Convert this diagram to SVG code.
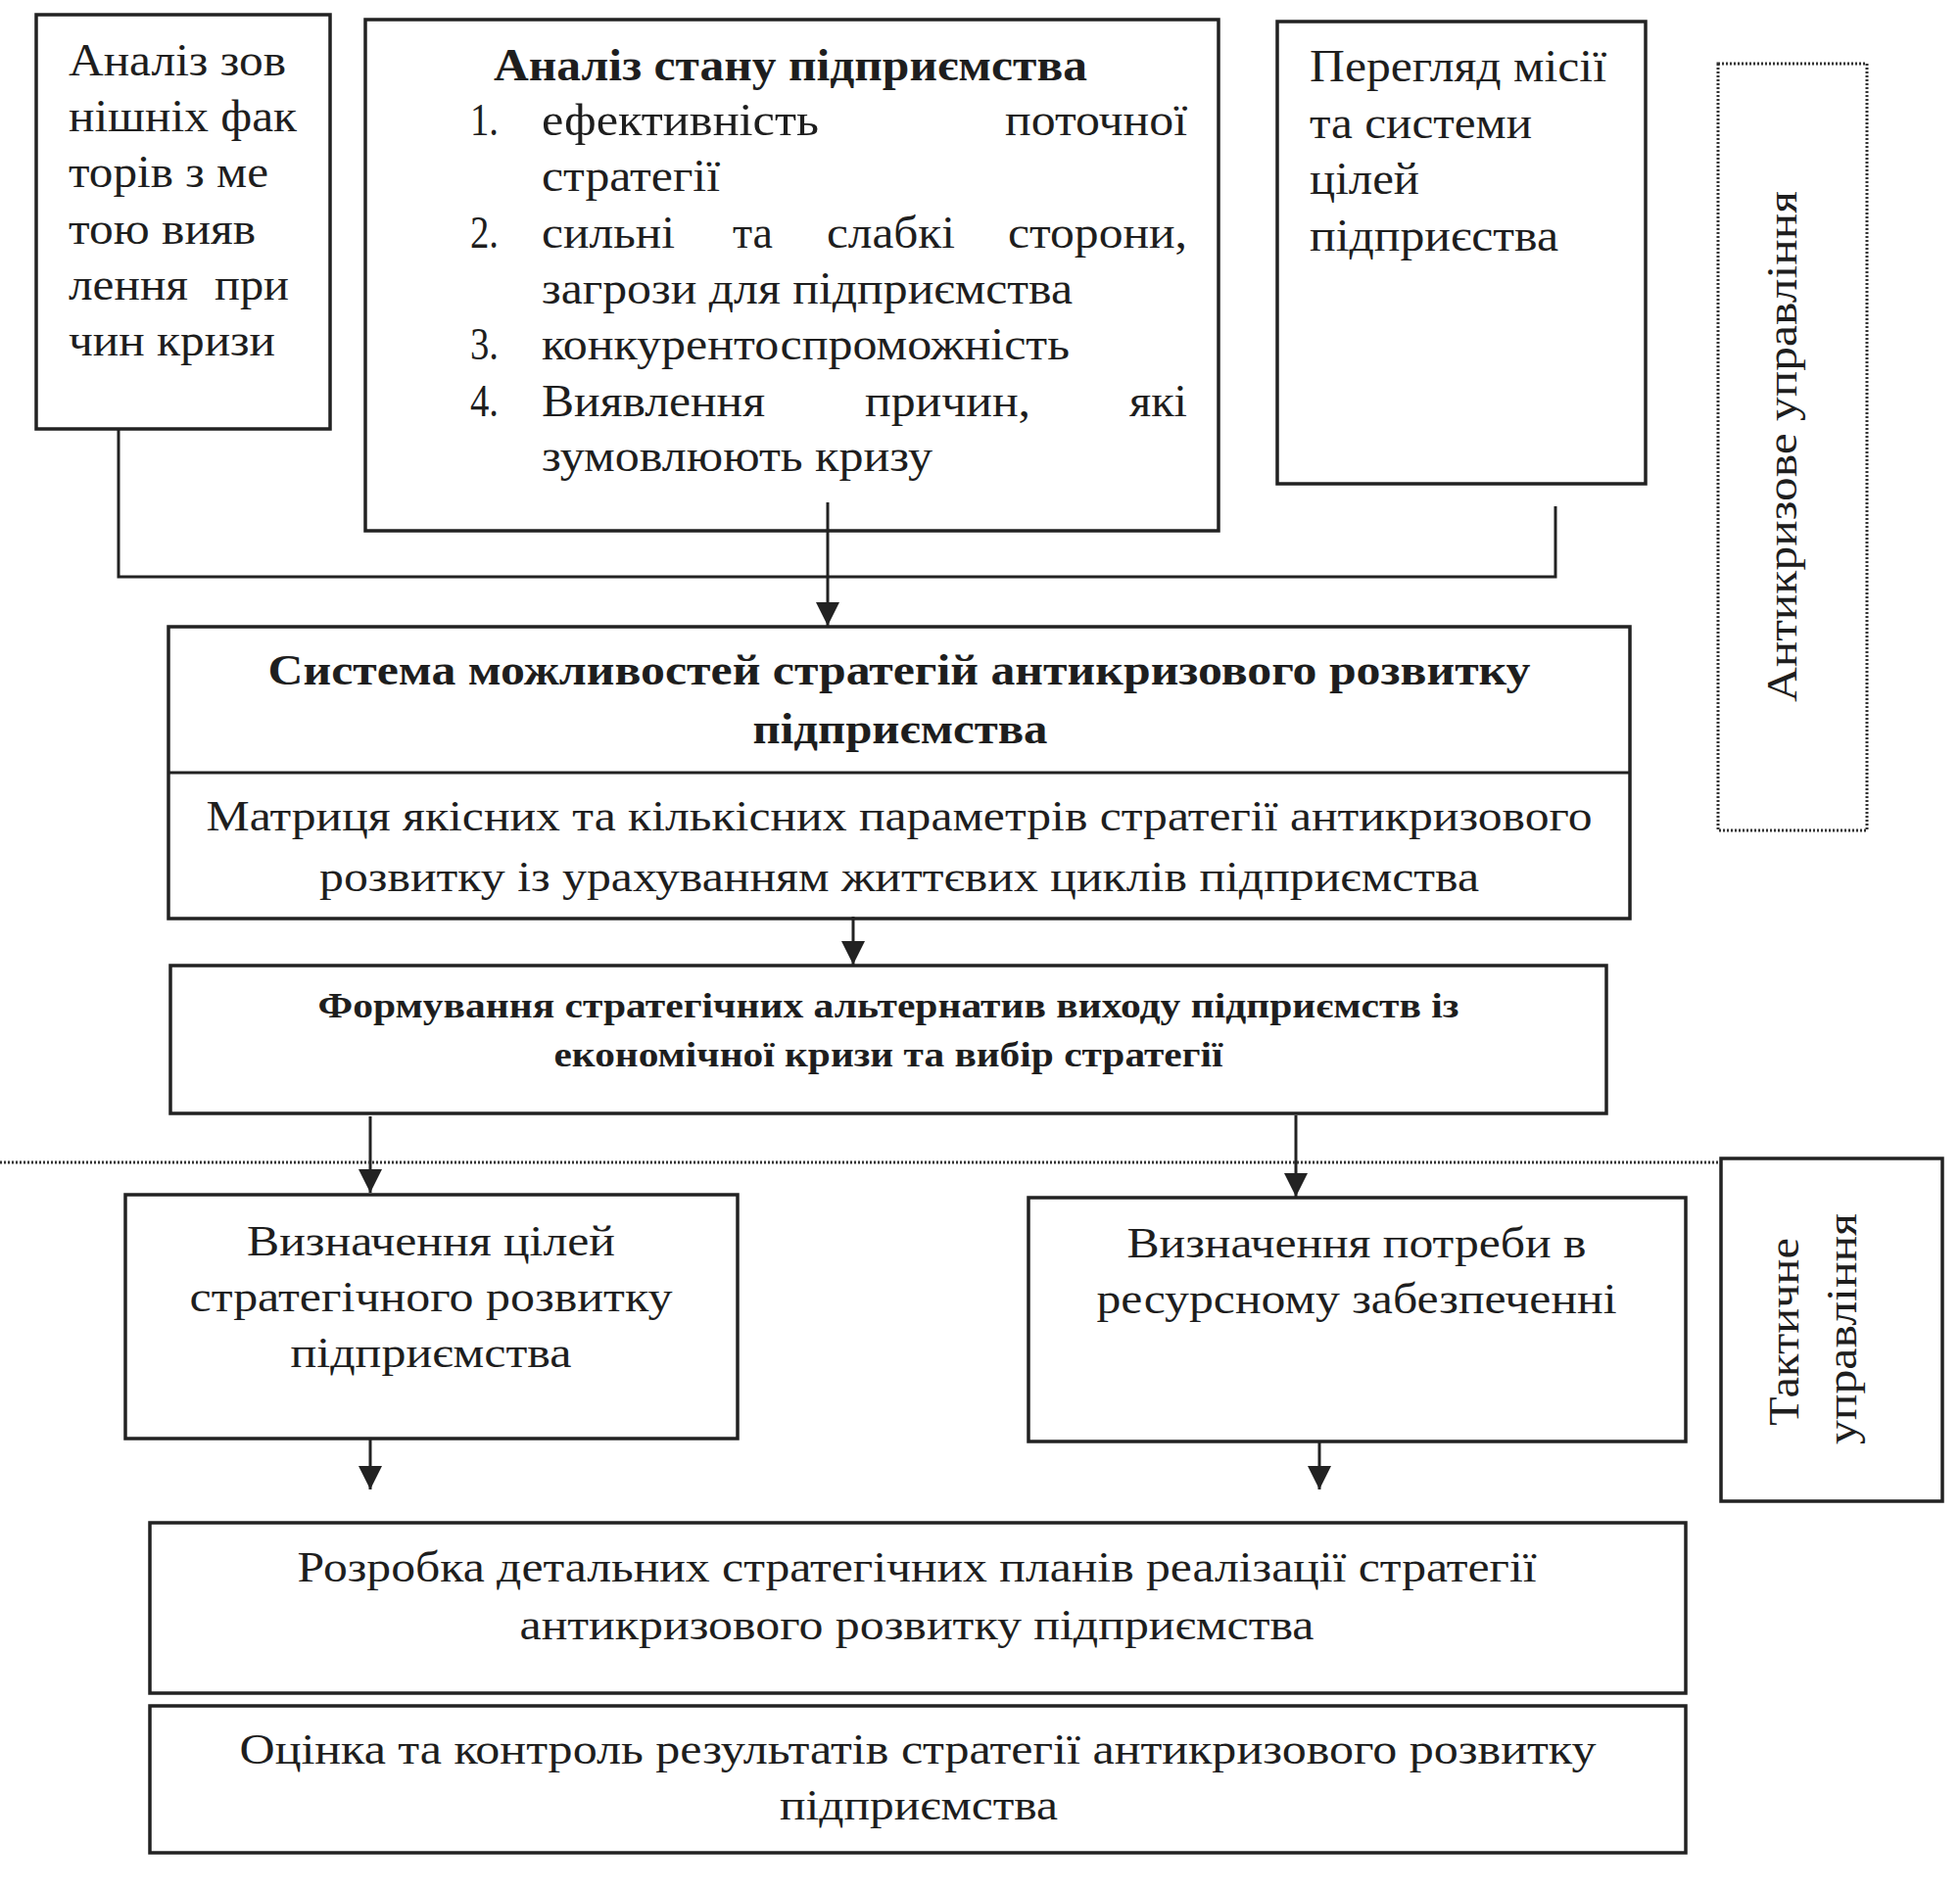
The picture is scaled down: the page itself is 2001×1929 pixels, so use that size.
<svg xmlns="http://www.w3.org/2000/svg" width="2001" height="1929" viewBox="0 0 2001 1929">
<defs>
<style>
.box{fill:#fff;stroke:#222;stroke-width:3.5}
.dot{fill:none;stroke:#333;stroke-width:3;stroke-dasharray:2 2}
.ln{fill:none;stroke:#222;stroke-width:3}
text{font-family:"Liberation Serif","Times New Roman",serif;fill:#1e1e1e;font-size:44px}
.l{font-size:46px}
.b{font-weight:bold}
.s{font-size:35px}
.m{text-anchor:middle}
.e{text-anchor:end}
</style>
<marker id="ah" viewBox="0 0 24 25" refX="24" refY="12" markerWidth="24" markerHeight="25" markerUnits="userSpaceOnUse" orient="auto">
<path d="M0,0 L24,12 L0,24 Z" fill="#222"/>
</marker>
</defs>
<rect width="2001" height="1929" fill="#fff"/>

<g id="n-external">
<rect class="box" x="37" y="15" width="300" height="423"/>
<text class="l" x="70" y="77" textLength="222" lengthAdjust="spacingAndGlyphs">Аналіз зов</text>
<text class="l" x="70" y="134" textLength="233" lengthAdjust="spacingAndGlyphs">нішніх фак</text>
<text class="l" x="70" y="191" textLength="204" lengthAdjust="spacingAndGlyphs">торів з ме</text>
<text class="l" x="70" y="249" textLength="191" lengthAdjust="spacingAndGlyphs">тою вияв</text>
<text class="l" x="70" y="306" textLength="122" lengthAdjust="spacingAndGlyphs">лення</text>
<text class="l" x="219" y="306" textLength="76" lengthAdjust="spacingAndGlyphs">при</text>
<text class="l" x="70" y="363" textLength="211" lengthAdjust="spacingAndGlyphs">чин кризи</text>
</g>

<g id="n-state">
<rect class="box" x="373" y="20" width="871" height="522"/>
<text class="b l" x="504" y="82" textLength="606" lengthAdjust="spacingAndGlyphs">Аналіз стану підприємства</text>
<text class="l" x="480" y="138" textLength="29" lengthAdjust="spacingAndGlyphs">1.</text>
<text class="l" x="553" y="138" textLength="283" lengthAdjust="spacingAndGlyphs">ефективність</text>
<text class="l" x="1026" y="138" textLength="186" lengthAdjust="spacingAndGlyphs">поточної</text>
<text class="l" x="553" y="195" textLength="182" lengthAdjust="spacingAndGlyphs">стратегії</text>
<text class="l" x="480" y="253" textLength="29" lengthAdjust="spacingAndGlyphs">2.</text>
<text class="l" x="553" y="253" textLength="136" lengthAdjust="spacingAndGlyphs">сильні</text>
<text class="l" x="748" y="253" textLength="41" lengthAdjust="spacingAndGlyphs">та</text>
<text class="l" x="844" y="253" textLength="131" lengthAdjust="spacingAndGlyphs">слабкі</text>
<text class="l" x="1029" y="253" textLength="183" lengthAdjust="spacingAndGlyphs">сторони,</text>
<text class="l" x="553" y="310" textLength="542" lengthAdjust="spacingAndGlyphs">загрози для підприємства</text>
<text class="l" x="480" y="367" textLength="29" lengthAdjust="spacingAndGlyphs">3.</text>
<text class="l" x="553" y="367" textLength="539" lengthAdjust="spacingAndGlyphs">конкурентоспроможність</text>
<text class="l" x="480" y="425" textLength="29" lengthAdjust="spacingAndGlyphs">4.</text>
<text class="l" x="553" y="425" textLength="228" lengthAdjust="spacingAndGlyphs">Виявлення</text>
<text class="l" x="883" y="425" textLength="169" lengthAdjust="spacingAndGlyphs">причин,</text>
<text class="l" x="1153" y="425" textLength="59" lengthAdjust="spacingAndGlyphs">які</text>
<text class="l" x="553" y="481" textLength="399" lengthAdjust="spacingAndGlyphs">зумовлюють кризу</text>
</g>

<g id="n-mission">
<rect class="box" x="1304" y="22" width="376" height="472"/>
<text class="l" x="1337" y="83" textLength="303" lengthAdjust="spacingAndGlyphs">Перегляд місії</text>
<text class="l" x="1337" y="141" textLength="227" lengthAdjust="spacingAndGlyphs">та системи</text>
<text class="l" x="1337" y="198" textLength="112" lengthAdjust="spacingAndGlyphs">цілей</text>
<text class="l" x="1337" y="256" textLength="254" lengthAdjust="spacingAndGlyphs">підприєства</text>
</g>

<g id="n-anticrisis">
<rect class="dot" x="1754" y="65" width="152" height="783"/>
<text class="m" transform="translate(1834,456) rotate(-90)" font-size="46" textLength="522" lengthAdjust="spacingAndGlyphs">Антикризове управління</text>
</g>

<g id="n-system">
<rect class="box" x="172" y="640" width="1492" height="298"/>
<line class="ln" x1="172" y1="789" x2="1664" y2="789"/>
<text class="b m" x="918" y="699" textLength="1289" lengthAdjust="spacingAndGlyphs">Система можливостей стратегій антикризового розвитку</text>
<text class="b m" x="919" y="759" textLength="301" lengthAdjust="spacingAndGlyphs">підприємства</text>
<text class="m" x="918" y="848" textLength="1415" lengthAdjust="spacingAndGlyphs">Матриця якісних та кількісних параметрів стратегії антикризового</text>
<text class="m" x="918" y="910" textLength="1184" lengthAdjust="spacingAndGlyphs">розвитку із урахуванням життєвих циклів підприємства</text>
</g>

<g id="n-forming">
<rect class="box" x="174" y="986" width="1466" height="151"/>
<text class="b s m" x="907" y="1039" textLength="1165" lengthAdjust="spacingAndGlyphs">Формування стратегічних альтернатив виходу підприємств із</text>
<text class="b s m" x="907" y="1089" textLength="683" lengthAdjust="spacingAndGlyphs">економічної кризи та вибір стратегії</text>
</g>

<g id="n-goals">
<rect class="box" x="128" y="1220" width="625" height="249"/>
<text class="m" x="440" y="1282" textLength="376" lengthAdjust="spacingAndGlyphs">Визначення цілей</text>
<text class="m" x="440" y="1339" textLength="493" lengthAdjust="spacingAndGlyphs">стратегічного розвитку</text>
<text class="m" x="440" y="1396" textLength="287" lengthAdjust="spacingAndGlyphs">підприємства</text>
</g>

<g id="n-resources">
<rect class="box" x="1050" y="1223" width="671" height="249"/>
<text class="m" x="1385" y="1284" textLength="469" lengthAdjust="spacingAndGlyphs">Визначення потреби в</text>
<text class="m" x="1385" y="1341" textLength="531" lengthAdjust="spacingAndGlyphs">ресурсному забезпеченні</text>
</g>

<g id="n-tactical">
<rect class="box" x="1757" y="1183" width="226" height="350"/>
<text class="m" transform="translate(1836,1360) rotate(-90)" textLength="192" lengthAdjust="spacingAndGlyphs">Тактичне</text>
<text class="m" transform="translate(1895,1357) rotate(-90)" textLength="236" lengthAdjust="spacingAndGlyphs">управління</text>
</g>

<g id="n-plans">
<rect class="box" x="153" y="1555" width="1568" height="174"/>
<text class="m" x="936" y="1615" textLength="1265" lengthAdjust="spacingAndGlyphs">Розробка детальних стратегічних планів реалізації стратегії</text>
<text class="m" x="936" y="1674" textLength="811" lengthAdjust="spacingAndGlyphs">антикризового розвитку підприємства</text>
</g>

<g id="n-control">
<rect class="box" x="153" y="1742" width="1568" height="150"/>
<text class="m" x="937" y="1801" textLength="1385" lengthAdjust="spacingAndGlyphs">Оцінка та контроль результатів стратегії антикризового розвитку</text>
<text class="m" x="938" y="1858" textLength="284" lengthAdjust="spacingAndGlyphs">підприємства</text>
</g>

<g id="connectors">
<path class="ln" d="M121,438 V589 H1588 V517"/>
<line class="ln" x1="845" y1="513" x2="845" y2="639" marker-end="url(#ah)"/>
<line class="ln" x1="871" y1="936" x2="871" y2="985" marker-end="url(#ah)"/>
<line class="ln" x1="378" y1="1140" x2="378" y2="1218" marker-end="url(#ah)"/>
<line class="ln" x1="1323" y1="1139" x2="1323" y2="1222" marker-end="url(#ah)"/>
<line class="ln" x1="378" y1="1469" x2="378" y2="1521" marker-end="url(#ah)"/>
<line class="ln" x1="1347" y1="1472" x2="1347" y2="1521" marker-end="url(#ah)"/>
<line class="dot" x1="0" y1="1187" x2="1755" y2="1187"/>
</g>
</svg>
